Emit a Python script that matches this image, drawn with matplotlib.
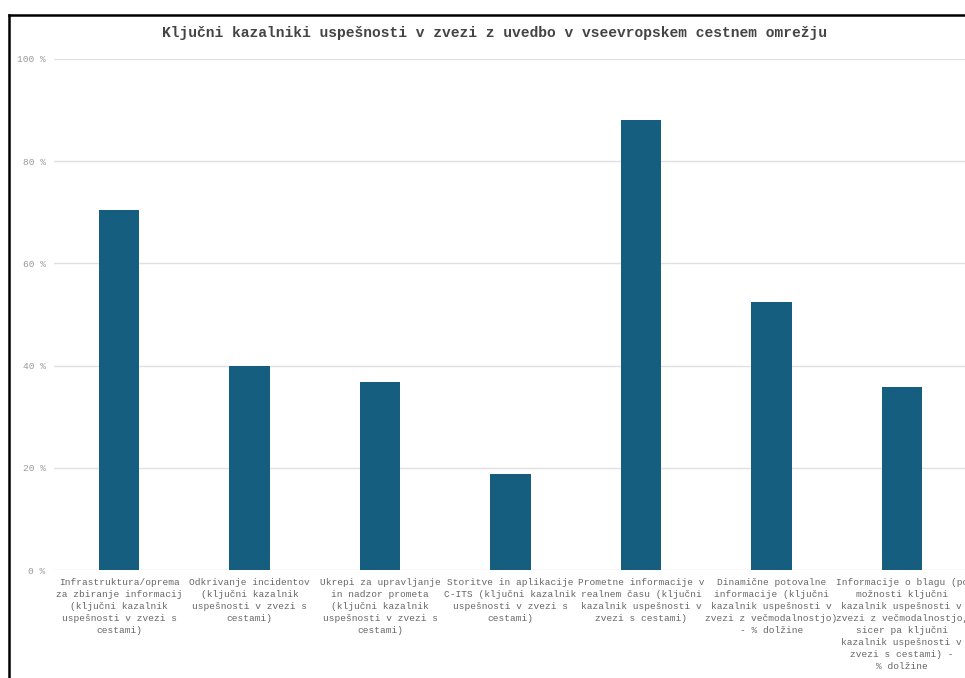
import matplotlib.pyplot as plt
from matplotlib.lines import Line2D

# Data
categories = [
    "Infrastruktura/oprema\nza zbiranje informacij\n(ključni kazalnik\nuspešnosti v zvezi s\ncestami)",
    "Odkrivanje incidentov\n(ključni kazalnik\nuspešnosti v zvezi s\ncestami)",
    "Ukrepi za upravljanje\nin nadzor prometa\n(ključni kazalnik\nuspešnosti v zvezi s\ncestami)",
    "Storitve in aplikacije\nC-ITS (ključni kazalnik\nuspešnosti v zvezi s\ncestami)",
    "Prometne informacije v\nrealnem času (ključni\nkazalnik uspešnosti v\nzvezi s cestami)",
    "Dinamične potovalne\ninformacije (ključni\nkazalnik uspešnosti v\nzvezi z večmodalnostjo)\n- % dolžine",
    "Informacije o blagu (po\nmožnosti ključni\nkazalnik uspešnosti v\nzvezi z večmodalnostjo,\nsicer pa ključni\nkazalnik uspešnosti v\nzvezi s cestami) -\n% dolžine",
]
values = [70.4, 40.0, 36.8, 18.8, 88.1, 52.4, 35.8]
yticks = [0, 20, 40, 60, 80, 100]
ytick_labels = ["0 %", "20 %", "40 %", "60 %", "80 %", "100 %"]
title = "Ključni kazalniki uspešnosti v zvezi z uvedbo v vseevropskem cestnem omrežju"

W, H = 965, 678
fig = plt.figure(figsize=(W / 100, H / 100), dpi=100)
plt.rcParams['font.family'] = ['Liberation Mono', 'DejaVu Sans Mono']

# axes in pixel coords: left 54, right ~967, bottom y=570, top y=59
ax = fig.add_axes([54 / W, (H - 570) / H, (967 - 54) / W, (570 - 59) / H])
x = list(range(len(categories)))
ax.bar(x, values, width=0.31, color='#165E80', zorder=3)

ax.set_xlim(-0.5, 6.5)
ax.set_ylim(0, 100)
ax.set_yticks(yticks)
ax.set_yticklabels(ytick_labels, fontsize=6.8, color='#999999')
ax.set_xticks(x)
ax.set_xticklabels(categories, fontsize=6.8, color='#666666', linespacing=1.42,
                   ha='center', va='top')
ax.tick_params(axis='both', length=0)
ax.tick_params(axis='y', pad=6)
ax.tick_params(axis='x', pad=6)
ax.grid(axis='y', color='#e0e0e0', linewidth=1, zorder=0)
for s in ax.spines.values():
    s.set_visible(False)
ax.set_axisbelow(True)

fig.text(494 / W, 1 - 33 / H, title, ha='center', va='center',
         fontsize=10.5, fontweight='bold', color='#444444')

# black frame on the left and top (the original is cut off at right/bottom)
fig.add_artist(Line2D([9 / W, 9 / W], [0, 1 - 15 / H], color='black', linewidth=1.8,
                      transform=fig.transFigure))
fig.add_artist(Line2D([9 / W, 1], [1 - 15 / H, 1 - 15 / H], color='black', linewidth=1.8,
                      transform=fig.transFigure))

fig.savefig('out.png', dpi=100)
